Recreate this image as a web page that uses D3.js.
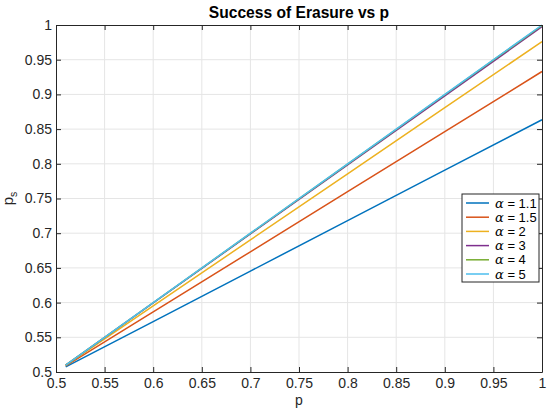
<!DOCTYPE html>
<html><head><meta charset="utf-8">
<script src="https://cdn.jsdelivr.net/npm/d3@7"></script>
<style>body{margin:0;background:#fff}svg{display:block}text{font-family:"Liberation Sans",Arial,sans-serif}</style>
</head><body><svg id="c" width="550" height="413"></svg>
<script>
const pValues = [0.51, 0.6, 0.7, 0.8, 0.9, 1.0];
const seriesLabels = ["1.1", "1.5", "2", "3", "4", "5"];
const ps_a11 = [0.5073, 0.5727, 0.6454, 0.7181, 0.7908, 0.8635];
const ps_a15 = [0.5087, 0.5866, 0.6732, 0.7598, 0.8464, 0.9330];
const ps_a2  = [0.5095, 0.5952, 0.6904, 0.7856, 0.8808, 0.9760];
const ps_a3  = [0.5100, 0.5995, 0.6990, 0.7985, 0.8980, 0.9975];
const ps_a4  = [0.5100, 0.5998, 0.6997, 0.7996, 0.8995, 0.9993];
const ps_a5  = [0.5100, 0.6000, 0.7000, 0.8000, 0.9000, 1.0000];
const seriesValues = [ps_a11, ps_a15, ps_a2, ps_a3, ps_a4, ps_a5];
const colors = ["#0072BD", "#D95319", "#EDB120", "#7E2F8E", "#77AC30", "#4DBEEE"];
const xTicks = [0.5,0.55,0.6,0.65,0.7,0.75,0.8,0.85,0.9,0.95,1];
const yTicks = [0.5,0.55,0.6,0.65,0.7,0.75,0.8,0.85,0.9,0.95,1];

const svg = d3.select("#c");
const L=56, R=542, T=25, B=372;
const x = d3.scaleLinear().domain([0.5,1]).range([L,R]);
const y = d3.scaleLinear().domain([0.5,1]).range([B,T]);
const fmt = d => (d===1?"1":String(+d.toFixed(2)));
const axColor = "#262626";

// grid
const g = svg.append("g");
g.selectAll(".gx").data(xTicks.slice(1,-1)).enter().append("line")
  .attr("x1",d=>x(d)).attr("x2",d=>x(d)).attr("y1",T).attr("y2",B)
  .attr("stroke","#e5e5e5").attr("stroke-width",1);
g.selectAll(".gy").data(yTicks.slice(1,-1)).enter().append("line")
  .attr("y1",d=>y(d)).attr("y2",d=>y(d)).attr("x1",L).attr("x2",R)
  .attr("stroke","#e5e5e5").attr("stroke-width",1);

// lines
const line = d3.line().x((d,i)=>x(pValues[i])).y(d=>y(d));
seriesValues.forEach((s,k)=>{
  svg.append("path").datum(s).attr("d",line).attr("fill","none")
    .attr("stroke",colors[k]).attr("stroke-width",1.5);
});

// axes
function styleAxis(sel){
  sel.select(".domain").attr("stroke",axColor);
  sel.selectAll(".tick line").attr("stroke",axColor);
  sel.selectAll(".tick text").attr("fill",axColor).style("font-size","14px")
    .style("font-family","'Liberation Sans',Arial,sans-serif");
}
const xb = svg.append("g").attr("transform",`translate(0,${B})`)
  .call(d3.axisBottom(x).tickValues(xTicks).tickFormat(fmt).tickSizeInner(-5).tickSizeOuter(0).tickPadding(6));
styleAxis(xb);
const xt = svg.append("g").attr("transform",`translate(0,${T})`)
  .call(d3.axisTop(x).tickValues(xTicks).tickFormat("").tickSizeInner(-5).tickSizeOuter(0));
styleAxis(xt);
const yl = svg.append("g").attr("transform",`translate(${L},0)`)
  .call(d3.axisLeft(y).tickValues(yTicks).tickFormat(fmt).tickSizeInner(-5).tickSizeOuter(0).tickPadding(4));
styleAxis(yl);
const yr = svg.append("g").attr("transform",`translate(${R},0)`)
  .call(d3.axisRight(y).tickValues(yTicks).tickFormat("").tickSizeInner(-5).tickSizeOuter(0));
styleAxis(yr);

// title & labels
svg.append("text").attr("x",(L+R)/2).attr("y",18).attr("text-anchor","middle")
  .style("font-size","15.6px").style("font-weight","bold").attr("fill","#000")
  .text("Success of Erasure vs p");
svg.append("text").attr("x",(L+R)/2).attr("y",405).attr("text-anchor","middle")
  .style("font-size","14px").attr("fill",axColor).text("p");
const ylab = svg.append("text").attr("transform",`translate(13,${(T+B)/2}) rotate(-90)`)
  .attr("text-anchor","middle").style("font-size","15px").attr("fill",axColor);
ylab.append("tspan").text("p");
ylab.append("tspan").attr("dy",4).style("font-size","10.5px").text("s");

// legend
const lg = svg.append("g");
const lx=462, ly=194, lw=77, lh=88;
lg.append("rect").attr("x",lx).attr("y",ly).attr("width",lw).attr("height",lh)
  .attr("fill","#fff").attr("stroke",axColor).attr("stroke-width",1);
seriesLabels.forEach((lab,k)=>{
  const yy = ly + 9 + k*14.2;
  lg.append("line").attr("x1",lx+4).attr("x2",lx+27).attr("y1",yy).attr("y2",yy)
    .attr("stroke",colors[k]).attr("stroke-width",1.5);
  const t = lg.append("text").attr("x",lx+33).attr("y",yy+4.5)
    .style("font-size","13px").attr("fill","#000");
  t.append("tspan").style("font-family","'DejaVu Serif',serif").style("font-style","italic").text("α");
  t.append("tspan").text(" = "+lab);
});
</script></body></html>
